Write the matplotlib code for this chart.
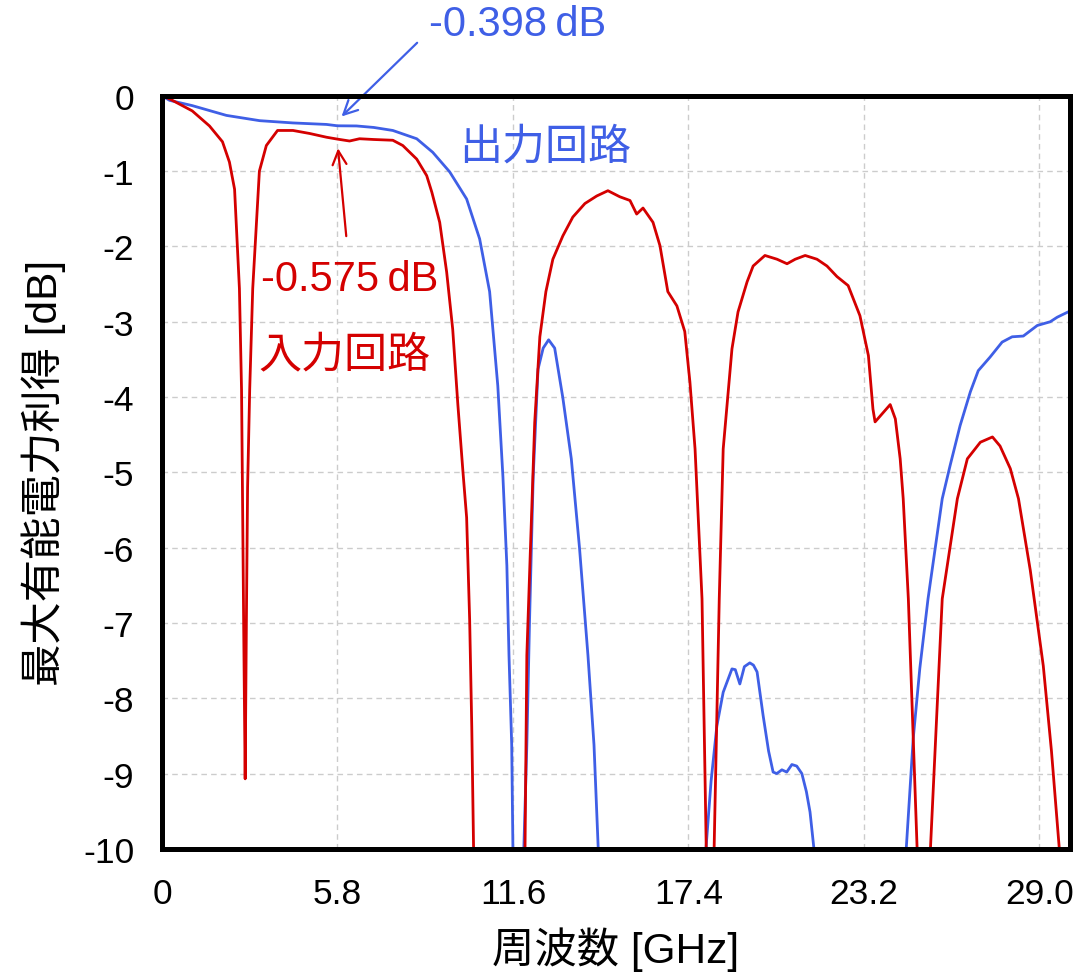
import numpy as np
import matplotlib.pyplot as plt

plt.rcParams['font.family'] = ['Liberation Sans', 'Noto Sans CJK JP']
plt.rcParams['axes.unicode_minus'] = False

nan = np.nan

# 出力回路 (output circuit) - NaN splits where the curve drops below -10 dB
out_freq = [0, 0.25, 1.0, 2.13, 3.23, 4.33, 5.44, 5.8, 6.43, 7.0, 7.63, 8.42, 8.95, 9.51, 10.07, 10.5,
            10.83, 11.1, 11.27, 11.4, 11.47, 11.56, 11.6,
            nan,
            11.96, 12.06, 12.15, 12.27, 12.43, 12.6, 12.78, 12.98, 13.25, 13.53, 13.8, 14.08, 14.28, 14.42,
            nan,
            17.98, 18.15, 18.34, 18.55, 18.84, 18.95, 19.1, 19.25, 19.43, 19.55, 19.67, 19.87, 20.05,
            20.2, 20.32, 20.49, 20.65, 20.82, 20.98, 21.15, 21.3, 21.42, 21.55,
            nan,
            24.6, 24.83, 25.05, 25.32, 25.79, 26.05, 26.38, 26.72, 26.98, 27.37, 27.77, 28.1, 28.47,
            28.93, 29.36, 29.59, 30.0]
out_gain = [0, -0.06, -0.13, -0.26, -0.33, -0.36, -0.38, -0.398, -0.40, -0.42, -0.46, -0.57, -0.75, -1.01, -1.37, -1.9,
            -2.6, -3.85, -5.06, -6.24, -7.43, -8.62, -10,
            nan,
            -10, -8.62, -6.96, -5.06, -3.63, -3.35, -3.24, -3.35, -4.01, -4.82, -6.0, -7.43, -8.62, -10,
            nan,
            -10, -9.1, -8.37, -7.92, -7.61, -7.62, -7.81, -7.58, -7.53, -7.56, -7.65, -8.23, -8.7,
            -8.98, -9.0, -8.95, -8.98, -8.88, -8.9, -9.0, -9.24, -9.51, -10,
            nan,
            -10, -8.54, -7.6, -6.68, -5.35, -4.91, -4.38, -3.93, -3.65, -3.47, -3.27, -3.2, -3.19,
            -3.05, -3.0, -2.94, -2.86]

# 入力回路 (input circuit)
in_freq = [0, 0.25, 1.0, 1.57, 2.0, 2.23, 2.4, 2.56, 2.63, 2.66, 2.70, 2.75, 2.79, 2.83, 2.9, 3.0, 3.22,
           3.45, 3.82, 4.33, 4.88, 5.44, 5.8, 6.2, 6.53, 7.0, 7.63, 7.96, 8.42, 8.75, 8.92, 9.18, 9.41,
           9.61, 9.78, 9.95, 10.07, 10.17, 10.24, 10.3,
           nan,
           12.0, 12.06, 12.18, 12.32, 12.49, 12.69, 12.92, 13.25, 13.58, 13.98, 14.37, 14.74, 15.13,
           15.47, 15.69, 15.9, 16.23, 16.46, 16.72, 17.02, 17.28, 17.45, 17.62, 17.85, 17.99,
           nan,
           18.25, 18.42, 18.55, 18.84, 19.04, 19.34, 19.54, 19.93, 20.33, 20.66, 20.93, 21.26,
           21.65, 21.98, 22.31, 22.68, 23.07, 23.35, 23.5, 23.57, 24.07, 24.24, 24.4, 24.5,
           24.67, 24.96,
           nan,
           25.4, 25.79, 26.29, 26.62, 27.05, 27.45, 27.7, 28.04, 28.31, 28.7, 29.13, 29.4, 29.66]
in_gain = [0, -0.04, -0.2, -0.4, -0.61, -0.88, -1.24, -2.56, -3.9, -5.2, -7.0, -9.07, -7.0, -5.2, -3.9, -2.56, -1.0,
           -0.66, -0.46, -0.46, -0.5, -0.55, -0.575, -0.6, -0.57, -0.58, -0.59, -0.66, -0.84, -1.06, -1.28, -1.68, -2.34,
           -3.1, -4.1, -5.0, -5.6, -6.96, -8.38, -10,
           nan,
           -10, -7.43, -6.0, -4.34, -3.2, -2.6, -2.17, -1.86, -1.61, -1.43, -1.33, -1.26, -1.34,
           -1.39, -1.57, -1.49, -1.68, -1.99, -2.6, -2.79, -3.13, -3.8, -4.69, -6.68, -10,
           nan,
           -10, -6.68, -4.69, -3.36, -2.87, -2.47, -2.26, -2.12, -2.17, -2.23, -2.17, -2.12,
           -2.17, -2.26, -2.4, -2.52, -2.92, -3.45, -4.16, -4.33, -4.1, -4.29, -4.82, -5.35,
           -6.68, -10,
           nan,
           -10, -6.68, -5.35, -4.82, -4.6, -4.53, -4.65, -4.95, -5.35, -6.3, -7.57, -8.7, -10]

x_ticks = [0, 5.8, 11.6, 17.4, 23.2, 29.0]
x_tick_labels = ['0', '5.8', '11.6', '17.4', '23.2', '29.0']
y_ticks = list(range(-10, 1))

blue = '#3f5fe6'
red = '#d40000'

fig = plt.figure(figsize=(10.87, 9.78), dpi=100)
ax = fig.add_axes([0.149, 0.131, 0.835, 0.770])

ax.plot(out_freq, out_gain, color=blue, lw=2.0, zorder=3)
ax.plot(in_freq, in_gain, color=red, lw=2.0, zorder=3)

ax.set_xlim(0, 30.0)
ax.set_ylim(-10, 0)
ax.set_xticks(x_ticks)
ax.set_xticklabels(x_tick_labels)
ax.set_yticks(y_ticks)
ax.tick_params(length=0, labelsize=25.5)
ax.tick_params(axis='x', pad=20)
ax.tick_params(axis='y', pad=20)
ax.grid(True, color='#cccccc', ls=(0, (4, 3)), lw=1.0)

for sp in ax.spines.values():
    sp.set_linewidth(3.6)
    sp.set_color('black')
    sp.set_zorder(5)

ax.set_xlabel('周波数 [GHz]', fontsize=30.5, labelpad=12)
ax.set_ylabel('最大有能電力利得 [dB]', fontsize=30.5, labelpad=12)

# annotations
ax.annotate('', xy=(5.87, -0.3), xytext=(8.5, 0.73), annotation_clip=False,
            arrowprops=dict(arrowstyle='->', color=blue, lw=1.6, mutation_scale=25))
ax.text(11.74, 0.96, '-0.398\u2009dB', color=blue, fontsize=30, ha='center', va='center', clip_on=False)
ax.text(12.65, -0.68, '出力回路', color=blue, fontsize=31, ha='center', va='center')

ax.annotate('', xy=(5.81, -0.66), xytext=(6.1, -1.9),
            arrowprops=dict(arrowstyle='->', color=red, lw=1.6, mutation_scale=25))
ax.text(6.2, -2.43, '-0.575\u2009dB', color=red, fontsize=30, ha='center', va='center')
ax.text(6.04, -3.45, '入力回路', color=red, fontsize=31, ha='center', va='center')

fig.savefig('out.png', dpi=100)
